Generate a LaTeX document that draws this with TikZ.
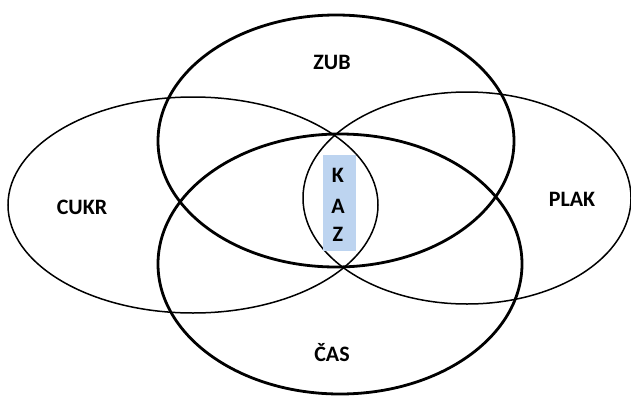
\documentclass[tikz,border=0pt]{standalone}
\usepackage{fontspec}
\setmainfont{Carlito}
\definecolor{kazblue}{rgb}{0.74,0.83,0.94}
\begin{document}
\begin{tikzpicture}[x=1pt,y=-1pt,
  thickell/.style={draw=black,line width=2.8pt},
  thinell/.style={draw=black,line width=1.5pt},
  lbl/.style={font=\bfseries\fontsize{22}{26}\selectfont,inner sep=0pt}]
\useasboundingbox (0,0) rectangle (631,396);
\draw[thinell] (193,205) ellipse [x radius=185pt, y radius=108pt];
\draw[thinell] (467,198) ellipse [x radius=164pt, y radius=106pt];
\draw[thickell] (336,141) ellipse [x radius=178pt, y radius=126pt];
\draw[thickell] (340,264) ellipse [x radius=182pt, y radius=130pt];
\node[fill=kazblue,minimum width=33pt,minimum height=96pt,inner sep=0pt] (box) at (339,203) {};
\node[lbl] (k) at (338,175) {K};
\node[lbl] (a) at (338,206) {A};
\node[lbl] (z) at (338,234) {Z};
\node[lbl] (zub) at (332,62) {ZUB};
\node[lbl] (cukr) at (82,207) {CUKR};
\node[lbl] (plak) at (572,199) {PLAK};
\node[lbl] (cas) at (332,353) {ČAS};
\end{tikzpicture}
\end{document}
